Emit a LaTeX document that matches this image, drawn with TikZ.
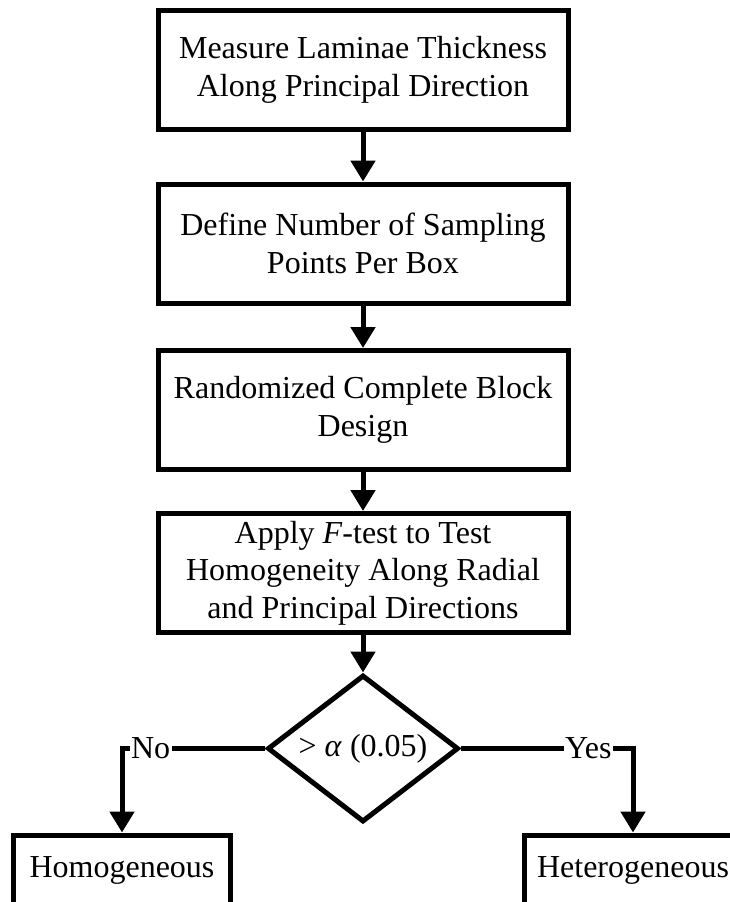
\documentclass[tikz,border=0pt]{standalone}
\usepackage{fontspec}
\setmainfont{Liberation Serif}
\usetikzlibrary{shapes.geometric,arrows.meta}
\tikzset{
  txt/.style={font=\fontsize{32}{37.5}\selectfont},
  stepbox/.style={txt, draw, line width=5pt, rectangle, minimum width=410pt, minimum height=119pt, align=center, inner sep=0pt},
  endbox/.style={txt, draw, line width=5pt, rectangle, minimum width=217pt, minimum height=70pt, align=center, inner sep=0pt},
  decision/.style={txt, draw, line width=5pt, diamond, aspect=1.3, minimum width=191pt, minimum height=147pt, inner sep=0pt},
  arr/.style={line width=5pt, -{Triangle[width=24pt,length=21pt]}},
  lbl/.style={txt, fill=white, inner sep=1.5pt}
}
\begin{document}
\begin{tikzpicture}[x=1pt,y=-1pt]
\useasboundingbox (0,0) rectangle (730,902);
\clip (0,0) rectangle (730,902);
\node[stepbox] (b1) at (363,70) {Measure Laminae Thickness\\Along Principal Direction};
\node[stepbox] (b2) at (363,243.5) {Define Number of Sampling\\Points Per Box};
\node[stepbox] (b3) at (363,410) {Randomized Complete Block\\Design};
\node[stepbox] (b4) at (363,573) {Apply \textit{F}-test to Test\\Homogeneity Along Radial\\and Principal Directions};
\node[decision] (d) at (363,748.5) {> \textit{α} (0.05)};
\node[endbox] (hom) at (122,870) {Homogeneous};
\node[endbox] (het) at (633,870) {Heterogeneous};
\draw[arr] (b1) -- (b2);
\draw[arr] (b2) -- (b3);
\draw[arr] (b3) -- (b4);
\draw[arr] (b4) -- (d);
\draw[arr] (d.west) -| node[lbl, pos=0.40] {No} (hom.north);
\draw[arr] (d.east) -| node[lbl, pos=0.37] {Yes} (het.north);
\end{tikzpicture}
\end{document}
